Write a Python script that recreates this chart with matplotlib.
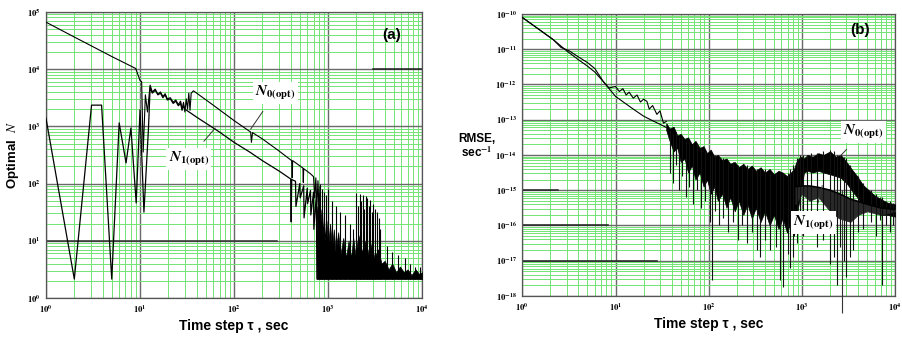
import numpy as np
import matplotlib
matplotlib.use("Agg")
import matplotlib.pyplot as plt
from matplotlib.ticker import LogLocator, FuncFormatter, NullFormatter

plt.rcParams['font.family'] = ['Liberation Sans', 'DejaVu Sans']
plt.rcParams['mathtext.fontset'] = 'stix'

# ---------------- panel (a): optimal N (log10 values) ----------------
a_n0_tau = [1, 2, 3, 5, 7, 9, 10, 10.4, 10.8, 11.4, 12, 12.8, 13.5, 14.5, 15.5, 16.5,
            17.5, 18.5, 19.5, 21, 22.5, 24, 25.5, 27, 28, 29, 30, 31, 32, 33, 34, 35,
            37, 40, 60, 100, 150, 153, 157, 200, 300, 410, 415, 420, 540, 545, 550,
            650, 700, 720, 740, 760, 780, 800, 820]
a_n0_log = [4.82, 4.56, 4.41, 4.22, 4.10, 4.01, 3.80, 3.78, 2.55, 3.55, 3.25, 3.72,
            3.60, 3.65, 3.56, 3.60, 3.52, 3.57, 3.48, 3.50, 3.42, 3.46, 3.38, 3.44,
            3.30, 3.42, 3.25, 3.48, 3.30, 3.58, 3.28, 3.58, 3.62, 3.58, 3.37, 3.10,
            2.90, 2.72, 2.89, 2.78, 2.57, 2.40, 2.10, 2.40, 2.27, 2.02, 2.26, 2.17,
            2.12, 1.75, 2.10, 1.60, 2.05, 1.55, 1.95]

a_n1_tau = [1, 2, 3.05, 3.9, 5, 6, 7.1, 8, 9.1, 10, 11, 12.3, 12.8, 13.5, 14.5, 15.5,
            16.5, 17.5, 18.5, 19.5, 21, 22.5, 24, 25.5, 27, 28, 29, 30, 40, 70, 100,
            150, 200, 300, 400, 405, 410, 450, 455, 500, 505, 550, 555, 600, 605,
            650, 655, 700, 705, 750, 760, 800]
a_n1_log = [3.14, 0.33, 3.37, 3.37, 0.33, 3.06, 2.36, 2.97, 1.66, 3.29, 1.50, 2.97,
            3.68, 3.58, 3.63, 3.55, 3.58, 3.50, 3.55, 3.46, 3.48, 3.40, 3.44, 3.36,
            3.40, 3.28, 3.36, 3.30, 3.16, 2.90, 2.72, 2.54, 2.40, 2.22, 2.08, 1.33,
            2.07, 2.04, 1.60, 2.00, 1.75, 1.96, 1.40, 1.92, 1.65, 1.88, 1.45, 1.85,
            1.20, 1.80, 0.33, 1.75]

# dense noise band (a), ragged top edge, floor at N = 2
a_band_tau = [760, 780, 800, 820, 850, 880, 900, 930, 960, 1000, 1050, 1100, 1150, 1200,
              1280, 1350, 1450, 1550, 1650, 1750, 1850, 1950, 2100, 2300, 2500, 2700,
              2900, 3100, 3400, 3700, 4000, 4400, 4800, 5300, 5800, 6400, 7000, 7700,
              8500, 9300, 10000]
a_band_top = [1.60, 1.30, 1.65, 1.20, 1.55, 1.10, 1.50, 1.00, 1.35, 0.90, 1.30, 0.85,
              1.20, 0.80, 1.15, 0.75, 1.05, 0.70, 1.00, 0.70, 1.05, 0.75, 1.10, 0.80,
              1.00, 0.75, 0.95, 0.70, 0.85, 0.60, 0.65, 0.50, 0.60, 0.45, 0.55, 0.45,
              0.50, 0.40, 0.50, 0.42, 0.45]
a_floor = 0.33

# isolated spikes (a)
a_spk_tau = [830, 860, 900, 950, 1000, 1100, 1200, 1350, 1500, 1700, 1850, 2000, 2080,
             2160, 2250, 2330, 2420, 2500, 2600, 2700, 2800, 2900, 3000, 3150, 3300,
             3450, 3600, 4200, 4800, 5500, 6500, 7500, 8500, 9500]
a_spk_top = [2.00, 1.90, 1.85, 1.80, 1.90, 1.70, 1.60, 1.50, 1.45, 1.30, 1.20, 1.84,
             1.60, 1.82, 1.70, 1.80, 1.55, 1.78, 1.75, 1.60, 1.72, 1.50, 1.65, 1.55,
             1.50, 1.40, 1.20, 0.90, 0.80, 0.75, 0.70, 0.60, 0.55, 0.55]

# ---------------- panel (b): RMSE (log10 values) ----------------
b_n1_tau = [1, 2.15, 3, 4, 5, 6, 7.4, 10, 15.5, 20, 25, 30, 35]
b_n1_log = [-10.10, -10.73, -11.05, -11.30, -11.48, -11.65, -11.92, -12.34, -12.70,
            -12.90, -13.03, -13.13, -13.22]

b_n0_tau = [1, 2.15, 2.6, 3.2, 4, 5, 6, 7.4, 8.5, 10, 11, 12, 13, 14, 15.5, 17, 18.5,
            20, 21.7, 23, 25, 27.8, 30, 32.7, 35]
b_n0_log = [-10.10, -10.73, -10.95, -11.05, -11.22, -11.38, -11.55, -11.92, -12.10,
            -12.06, -12.20, -12.12, -12.30, -12.22, -12.39, -12.30, -12.50, -12.42,
            -12.48, -12.70, -12.60, -12.85, -12.75, -13.10, -13.05]

# dense noise band (b): ragged top / bottom edges
b_band_tau = [35, 38, 42, 46, 50, 55, 60, 66, 72, 80, 88, 96, 105, 115, 125, 140, 155,
              170, 190, 210, 235, 260, 290, 320, 360, 400, 450, 500, 560, 620, 690, 760,
              820, 870, 920, 980, 1050, 1150, 1300, 1500, 1700, 2000, 2300, 2600, 3000,
              3400, 3900, 4500, 5200, 6000, 7000, 8200, 10000]
b_band_top = [-13.10, -13.25, -13.20, -13.45, -13.40, -13.55, -13.50, -13.70, -13.60,
              -13.80, -13.75, -13.95, -13.85, -14.05, -14.00, -14.15, -14.10, -14.25,
              -14.20, -14.35, -14.25, -14.40, -14.30, -14.45, -14.35, -14.50, -14.40,
              -14.55, -14.45, -14.50, -14.60, -14.50, -14.40, -14.20, -14.10, -14.05,
              -14.10, -14.00, -14.05, -13.95, -14.00, -13.90, -14.05, -14.00, -14.20,
              -14.40, -14.60, -14.85, -15.00, -15.15, -15.25, -15.35, -15.40]
b_band_bot = [-13.30, -13.60, -13.90, -13.80, -14.20, -14.10, -14.50, -14.30, -14.70,
              -14.50, -14.90, -14.70, -15.10, -14.90, -15.30, -15.10, -15.50, -15.20,
              -15.60, -15.30, -15.70, -15.40, -15.80, -15.50, -15.90, -15.60, -16.00,
              -15.70, -16.10, -15.80, -16.20, -15.90, -16.30, -15.80, -15.40, -15.00,
              -14.50, -14.45, -14.50, -14.45, -14.50, -14.55, -14.60, -14.65, -14.80,
              -15.00, -15.20, -15.45, -15.55, -15.60, -15.70, -15.70, -15.75]

# N1 line through the noise and the dark area under it
b_n1_tail_tau = [850, 1000, 1200, 1500, 2000, 2500, 3300, 4000, 5000, 7000, 10000]
b_n1_tail_log = [-14.90, -14.88, -14.88, -14.92, -15.00, -15.10, -15.25, -15.32, -15.40,
                 -15.50, -15.55]
b_low_bot = [-15.40, -15.10, -15.30, -15.20, -15.60, -15.80, -15.90, -15.70, -15.60,
             -15.70, -15.60]

b_spk_tau = [38, 41, 44, 48, 52, 57, 62, 68, 74, 82, 92, 103, 108, 118, 130, 143, 160,
             180, 207, 230, 260, 290, 330, 355, 400, 455, 520, 580, 630, 700, 740, 800,
             880, 950, 1030, 1120, 1250, 1450, 1700, 2000, 2200, 2400, 2550, 2850, 3000,
             3250, 3550, 4000, 4550, 5500, 6200, 6900, 7200, 8000, 8800, 9500]
b_spk_bot = [-14.50, -14.80, -14.30, -15.00, -14.60, -15.20, -14.90, -15.40, -15.00,
             -15.50, -15.30, -15.90, -17.55, -15.60, -16.00, -15.80, -16.20, -15.90,
             -16.40, -16.00, -16.50, -16.20, -16.70, -16.90, -16.40, -16.70, -16.60,
             -17.55, -17.75, -16.80, -17.20, -16.90, -16.50, -16.00, -16.30, -16.00,
             -15.90, -16.60, -16.40, -17.10, -16.90, -17.70, -16.60, -17.00, -17.46,
             -16.90, -16.70, -16.20, -16.10, -15.90, -16.30, -15.86, -17.70, -16.00,
             -16.20, -16.00]
b_spk_top = [-13.30, -13.40, -13.35, -13.50, -13.50, -13.60, -13.60, -13.70, -13.70,
             -13.80, -13.90, -14.00, -14.00, -14.00, -14.10, -14.10, -14.20, -14.20,
             -14.30, -14.30, -14.30, -14.40, -14.40, -14.40, -14.40, -14.50, -14.50,
             -14.50, -14.50, -14.50, -14.40, -14.30, -14.10, -14.00, -14.00, -14.00,
             -13.95, -13.95, -13.90, -13.85, -13.90, -14.00, -14.00, -14.05, -14.10,
             -14.30, -14.50, -14.60, -14.80, -15.00, -15.10, -15.20, -15.20, -15.30,
             -15.30, -15.35]
b_deep_tau = 2700
b_deep_bot = -18.48

ticks_a = [0, 1, 2, 3, 4, 5]
ticks_b = [-18, -17, -16, -15, -14, -13, -12, -11, -10]


def p10(v):
    return 10.0 ** np.asarray(v, dtype=float)


def setup(ax, ydec):
    ax.set_xscale('log')
    ax.set_yscale('log')
    ax.set_xlim(1, 1e4)
    ax.set_ylim(p10(ydec[0]), p10(ydec[-1]))
    ax.xaxis.set_major_locator(LogLocator(base=10, numticks=20))
    ax.yaxis.set_major_locator(LogLocator(base=10, numticks=20))
    ax.xaxis.set_minor_locator(LogLocator(base=10, subs=np.arange(2, 10), numticks=40))
    ax.yaxis.set_minor_locator(LogLocator(base=10, subs=np.arange(2, 10), numticks=40))
    fmt = FuncFormatter(lambda v, p: r'$\mathbf{10^{%d}}$' % int(round(np.log10(v))))
    ax.xaxis.set_major_formatter(fmt)
    ax.yaxis.set_major_formatter(fmt)
    ax.xaxis.set_minor_formatter(NullFormatter())
    ax.yaxis.set_minor_formatter(NullFormatter())
    ax.grid(which='minor', color='#72e472', lw=0.7)
    ax.grid(which='major', color='#6a6a6a', lw=1.0)
    ax.set_axisbelow(True)
    ax.tick_params(which='both', length=0, labelsize=6.2, pad=4)
    for s in ax.spines.values():
        s.set_color('#555555')
        s.set_linewidth(0.9)


def label(ax, text, xy, xytext):
    ax.annotate(text, xy=xy, xytext=xytext, fontsize=11, ha='center', va='center',
                bbox=dict(boxstyle='square,pad=0.15', fc='white', ec='none'),
                arrowprops=dict(arrowstyle='-', color='#333333', lw=0.7,
                                shrinkA=6, shrinkB=0), zorder=6)


fig = plt.figure(figsize=(9.02, 3.39), dpi=100)
ax1 = fig.add_axes([0.051, 0.121, 0.417, 0.844])
ax2 = fig.add_axes([0.579, 0.127, 0.4135, 0.832])

# ---------- (a) ----------
setup(ax1, ticks_a)
ax1.axhline(1e4, xmin=0.87, xmax=1, color='#222222', lw=1.1, zorder=1)
ax1.axhline(10, xmin=0, xmax=0.615, color='#333333', lw=1.1, zorder=1)
ax1.fill_between(a_band_tau, p10(a_floor), p10(a_band_top), color='black', lw=0.5,
                 zorder=3)
ax1.vlines(a_spk_tau, p10(a_floor), p10(a_spk_top), color='black', lw=0.8, zorder=3)
ax1.plot(a_n0_tau, p10(a_n0_log), color='black', lw=0.8, zorder=4)
ax1.plot(a_n1_tau, p10(a_n1_log), color='black', lw=0.9, zorder=4)
ax1.set_xlabel('Time step τ , sec', fontsize=10, fontweight='bold', labelpad=3)
ax1.set_ylabel(r'Optimal  $\mathit{N}$', fontsize=9.5, fontweight='bold', labelpad=4)
ax1.text(0.92, 0.92, '(a)', transform=ax1.transAxes, fontsize=11, fontweight='bold',
         ha='center', va='center')
label(ax1, r'$\mathbfit{N}_{\mathbf{0(opt)}}$', (150, p10(2.95)), (275, p10(3.58)))
label(ax1, r'$\mathbfit{N}_{\mathbf{1(opt)}}$', (63, p10(2.97)), (33, p10(2.43)))

# ---------- (b) ----------
setup(ax2, ticks_b)
for t in ax2.get_yticklabels():
    t.set_verticalalignment('center_baseline')
ax2.axhline(1e-15, xmin=0, xmax=0.095, color='#222222', lw=1.1, zorder=1)
ax2.axhline(1e-16, xmin=0, xmax=0.23, color='#222222', lw=1.1, zorder=1)
ax2.axhline(1e-17, xmin=0, xmax=0.36, color='#222222', lw=1.1, zorder=1)
ax2.fill_between(b_band_tau, p10(b_band_bot), p10(b_band_top), color='black', lw=0.5,
                 zorder=3)
ax2.fill_between(b_n1_tail_tau, p10(b_low_bot), p10(b_n1_tail_log), color='#2a2a2a',
                 lw=0.5, zorder=3)
ax2.vlines(b_spk_tau, p10(b_spk_bot), p10(b_spk_top), color='#111111', lw=0.8, zorder=3)
ax2.vlines([b_deep_tau], p10(b_deep_bot), p10(-15.0), color='#333333', lw=0.8, zorder=3,
           clip_on=False)
ax2.plot(b_n1_tail_tau, p10(b_n1_tail_log), color='black', lw=1.2, zorder=4)
ax2.plot(b_n1_tau, p10(b_n1_log), color='black', lw=0.8, zorder=4)
ax2.plot(b_n0_tau, p10(b_n0_log), color='black', lw=0.8, zorder=4)
ax2.set_xlabel('Time step τ , sec', fontsize=10, fontweight='bold', labelpad=3)
ax2.text(-0.123, 0.53, 'RMSE,\nsec$^{\\mathbf{-1}}$', transform=ax2.transAxes,
         fontsize=8.5, fontweight='bold', ha='center', va='center', linespacing=1.1)
ax2.text(0.906, 0.944, '(b)', transform=ax2.transAxes, fontsize=11, fontweight='bold',
         ha='center', va='center')
label(ax2, r'$\mathbfit{N}_{\mathbf{0(opt)}}$', (2570, p10(-14.03)), (4560, p10(-13.35)))
label(ax2, r'$\mathbfit{N}_{\mathbf{1(opt)}}$', (1650, p10(-14.87)), (1320, p10(-15.92)))

fig.savefig('out.png', dpi=100, facecolor='white')
